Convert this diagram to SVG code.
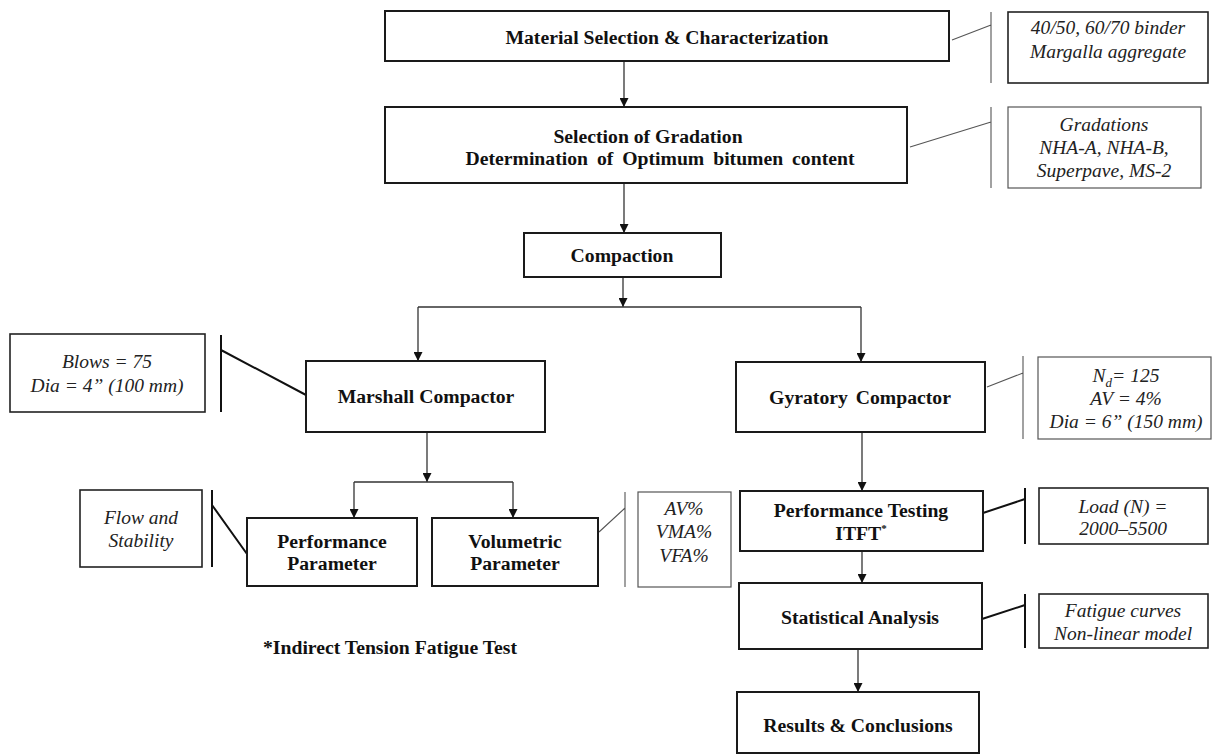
<svg xmlns="http://www.w3.org/2000/svg" width="1213" height="754" viewBox="0 0 1213 754">
<style>
.box{fill:#fff;stroke:#1a1a1a;stroke-width:2}
.cb{fill:#fff;stroke:#222;stroke-width:1.6}
.cbt{fill:#fff;stroke:#555;stroke-width:1.2}
.t{font-family:"Liberation Serif","Times New Roman",serif;font-size:19.7px;font-weight:bold;fill:#111;text-anchor:middle}
.i{font-family:"Liberation Serif","Times New Roman",serif;font-size:19.5px;font-style:italic;fill:#222;text-anchor:middle}
.ar{fill:none;stroke:#333;stroke-width:1.3;marker-end:url(#ah)}
.ln{fill:none;stroke:#333;stroke-width:1.3}
.lt{fill:none;stroke:#555;stroke-width:1.1}
.lk{fill:none;stroke:#111;stroke-width:2}
</style>
<defs>
<marker id="ah" viewBox="0 0 10 10" refX="10" refY="5" markerWidth="10" markerHeight="9" orient="auto" markerUnits="userSpaceOnUse">
<path d="M0,0 L10,5 L0,10 z" fill="#111"/>
</marker>
</defs>
<rect width="1213" height="754" fill="#fff"/>

<g id="connectors">
<path class="ar" d="M624,62 V107"/>
<path class="ar" d="M624,184 V233"/>
<path class="ar" d="M623,278 V307"/>
<path class="ln" d="M418,307 H861"/>
<path class="ar" d="M418,307 V361"/>
<path class="ar" d="M861,307 V362"/>
<path class="ar" d="M862,433 V491"/>
<path class="ar" d="M427,433 V482"/>
<path class="ln" d="M354,482 H513"/>
<path class="ar" d="M354,482 V518"/>
<path class="ar" d="M513,482 V518"/>
<path class="ar" d="M862,552 V583"/>
<path class="ar" d="M858,650 V692"/>
<path class="lt" d="M952,40 L991,25 M991,12 V83"/>
<path class="lt" d="M910,147 L991,122 M991,107 V188"/>
<path class="lt" d="M987,387 L1023,373 M1023,356 V439"/>
<path class="lt" d="M599,532 L625,508 M625,492 V587"/>
<path class="lk" d="M221,350 L306,395 M221,335 V412"/>
<path class="lk" d="M212,505 L247,554 M212,490 V567"/>
<path class="lk" d="M983,513 L1025,499 M1025,488 V544"/>
<path class="lk" d="M982,619 L1025,605 M1025,594 V648"/>
</g>

<g id="material">
<rect class="box" x="385" y="11" width="564" height="50"/>
<text class="t" x="667" y="44">Material Selection &amp; Characterization</text>
</g>
<g id="material-note">
<rect class="cb" x="1008" y="12" width="200" height="71"/>
<text class="i" x="1108" y="34">40/50, 60/70 binder</text>
<text class="i" x="1108" y="58">Margalla aggregate</text>
</g>

<g id="gradation">
<rect class="box" x="385" y="107" width="522" height="76"/>
<text class="t" x="648" y="143">Selection of Gradation</text>
<text class="t" x="660" y="165" word-spacing="4">Determination of Optimum bitumen content</text>
</g>
<g id="gradation-note">
<rect class="cbt" x="1008" y="107" width="193" height="81"/>
<text class="i" x="1104" y="131">Gradations</text>
<text class="i" x="1104" y="154">NHA-A, NHA-B,</text>
<text class="i" x="1104" y="177">Superpave, MS-2</text>
</g>

<g id="compaction">
<rect class="box" x="524" y="233" width="197" height="44"/>
<text class="t" x="622" y="262">Compaction</text>
</g>

<g id="marshall">
<rect class="box" x="306" y="361" width="239" height="71"/>
<text class="t" x="426" y="403">Marshall Compactor</text>
</g>
<g id="marshall-note">
<rect class="cb" x="10" y="334" width="195" height="78"/>
<text class="i" x="107" y="368">Blows = 75</text>
<text class="i" x="107" y="392">Dia = 4” (100 mm)</text>
</g>

<g id="gyratory">
<rect class="box" x="736" y="362" width="249" height="70"/>
<text class="t" x="860" y="404" word-spacing="3">Gyratory Compactor</text>
</g>
<g id="gyratory-note">
<rect class="cbt" x="1038" y="357" width="173" height="82"/>
<text class="i" x="1126" y="382">N<tspan font-size="13" dy="5">d</tspan><tspan dy="-5">= 125</tspan></text>
<text class="i" x="1126" y="405">AV = 4%</text>
<text class="i" x="1126" y="428">Dia = 6” (150 mm)</text>
</g>

<g id="performance-parameter">
<rect class="box" x="247" y="518" width="170" height="68"/>
<text class="t" x="332" y="548">Performance</text>
<text class="t" x="332" y="570">Parameter</text>
</g>
<g id="flow-note">
<rect class="cb" x="80" y="490" width="122" height="77"/>
<text class="i" x="141" y="524">Flow and</text>
<text class="i" x="141" y="547">Stability</text>
</g>

<g id="volumetric-parameter">
<rect class="box" x="432" y="518" width="166" height="68"/>
<text class="t" x="515" y="548">Volumetric</text>
<text class="t" x="515" y="570">Parameter</text>
</g>
<g id="volumetric-note">
<rect class="cbt" x="638" y="492" width="93" height="95"/>
<text class="i" x="684" y="515">AV%</text>
<text class="i" x="684" y="538">VMA%</text>
<text class="i" x="684" y="562">VFA%</text>
</g>

<g id="performance-testing">
<rect class="box" x="740" y="491" width="243" height="60"/>
<text class="t" x="861" y="517">Performance Testing</text>
<text class="t" x="861" y="540">ITFT<tspan font-size="11" dy="-8">*</tspan></text>
</g>
<g id="load-note">
<rect class="cb" x="1039" y="488" width="169" height="56"/>
<text class="i" x="1123" y="513">Load (N) =</text>
<text class="i" x="1123" y="535">2000–5500</text>
</g>

<g id="statistical">
<rect class="box" x="739" y="583" width="243" height="66"/>
<text class="t" x="860" y="624">Statistical Analysis</text>
</g>
<g id="statistical-note">
<rect class="cb" x="1039" y="594" width="169" height="54"/>
<text class="i" x="1123" y="617">Fatigue curves</text>
<text class="i" x="1123" y="640">Non-linear model</text>
</g>

<g id="results">
<rect class="box" x="737" y="692" width="242" height="61"/>
<text class="t" x="858" y="732">Results &amp; Conclusions</text>
</g>

<g id="footnote">
<text class="t" x="263" y="654" style="text-anchor:start">*Indirect Tension Fatigue Test</text>
</g>
</svg>
